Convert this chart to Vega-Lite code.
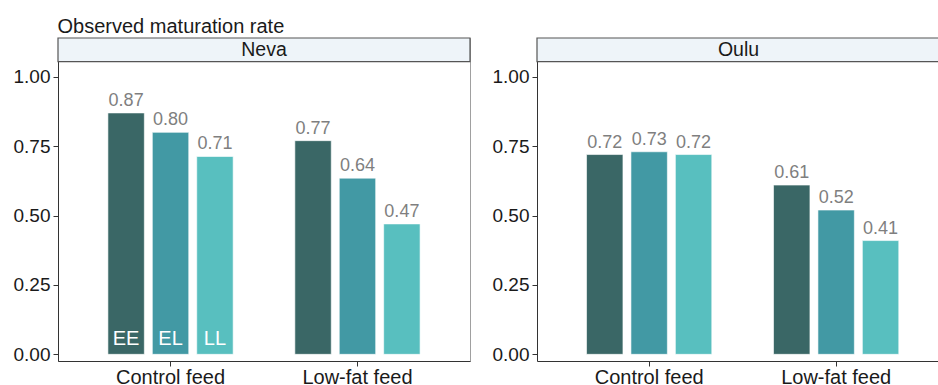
{
  "$schema": "https://vega.github.io/schema/vega-lite/v6.json",
  "background": "white",
  "padding": {"left": 12, "top": 16, "right": 0, "bottom": 0},
  "title": {"text": "Observed maturation rate", "anchor": "start", "dx": 45, "fontSize": 20, "fontWeight": "normal", "font": "Liberation Sans", "color": "#1a1a1a", "offset": 0},
  "data": {"values": [
    {"site": "Neva", "feed": "Control feed", "gen": "EE", "rate": 0.87},
    {"site": "Neva", "feed": "Control feed", "gen": "EL", "rate": 0.80},
    {"site": "Neva", "feed": "Control feed", "gen": "LL", "rate": 0.713},
    {"site": "Neva", "feed": "Low-fat feed", "gen": "EE", "rate": 0.77},
    {"site": "Neva", "feed": "Low-fat feed", "gen": "EL", "rate": 0.635},
    {"site": "Neva", "feed": "Low-fat feed", "gen": "LL", "rate": 0.47},
    {"site": "Oulu", "feed": "Control feed", "gen": "EE", "rate": 0.72},
    {"site": "Oulu", "feed": "Control feed", "gen": "EL", "rate": 0.73},
    {"site": "Oulu", "feed": "Control feed", "gen": "LL", "rate": 0.72},
    {"site": "Oulu", "feed": "Low-fat feed", "gen": "EE", "rate": 0.61},
    {"site": "Oulu", "feed": "Low-fat feed", "gen": "EL", "rate": 0.52},
    {"site": "Oulu", "feed": "Low-fat feed", "gen": "LL", "rate": 0.41}
  ]},
  "spacing": 20,
  "hconcat": [
    {
      "width": 412,
      "height": 323,
      "layer": [
        {
          "transform": [{"filter": "datum.site == 'Neva'"}],
          "mark": {"type": "bar", "stroke": "white", "strokeWidth": 0.6},
          "encoding": {
            "x": {"field": "feed", "type": "nominal", "sort": ["Control feed", "Low-fat feed"], "scale": {"paddingInner": 0.33, "paddingOuter": 0.267}, "axis": {"title": null, "labelAngle": 0}},
            "xOffset": {"field": "gen", "type": "nominal", "sort": ["EE", "EL", "LL"], "scale": {"paddingInner": 0.18, "paddingOuter": 0}},
            "y": {"field": "rate", "type": "quantitative", "title": null, "scale": {"domain": [-0.024, 1.14], "nice": false, "zero": false}, "axis": {"values": [0, 0.25, 0.5, 0.75, 1], "format": ".2f", "title": null}},
            "color": {"field": "gen", "type": "nominal", "scale": {"domain": ["EE", "EL", "LL"], "range": ["#3a6766", "#4299a4", "#58bfbf"]}, "legend": null}
          }
        },
        {
          "transform": [{"filter": "datum.site == 'Neva'"}],
          "mark": {"type": "text", "baseline": "alphabetic", "dy": -7, "fontSize": 18, "color": "#7f7f7f"},
          "encoding": {
            "x": {"field": "feed", "type": "nominal", "sort": ["Control feed", "Low-fat feed"]},
            "xOffset": {"field": "gen", "type": "nominal", "sort": ["EE", "EL", "LL"]},
            "y": {"field": "rate", "type": "quantitative", "title": null},
            "text": {"field": "rate", "type": "quantitative", "format": ".2f"}
          }
        },
        {
          "transform": [{"filter": "datum.site == 'Neva' && datum.feed == 'Control feed'"}],
          "mark": {"type": "text", "baseline": "alphabetic", "dy": -9, "fontSize": 20, "color": "white"},
          "encoding": {
            "x": {"field": "feed", "type": "nominal", "sort": ["Control feed", "Low-fat feed"]},
            "xOffset": {"field": "gen", "type": "nominal", "sort": ["EE", "EL", "LL"]},
            "y": {"datum": 0, "type": "quantitative", "title": null},
            "text": {"field": "gen", "type": "nominal"}
          }
        },
        {
          "data": {"values": [{"site": "Neva"}]},
          "mark": {"type": "rect", "fill": "#eef4f9", "stroke": "#555555", "strokeWidth": 1.2},
          "encoding": {
            "y": {"datum": 1.055, "type": "quantitative", "title": null},
            "y2": {"datum": 1.14}
          }
        },
        {
          "data": {"values": [{"site": "Neva"}]},
          "mark": {"type": "text", "baseline": "middle", "fontSize": 19.5, "color": "#1a1a1a"},
          "encoding": {
            "y": {"datum": 1.0975, "type": "quantitative", "title": null},
            "text": {"field": "site", "type": "nominal"}
          }
        }
      ]
    },
    {
      "width": 403,
      "height": 323,
      "view": {"stroke": null},
      "layer": [
        {
          "transform": [{"filter": "datum.site == 'Oulu'"}],
          "mark": {"type": "bar", "stroke": "white", "strokeWidth": 0.6},
          "encoding": {
            "x": {"field": "feed", "type": "nominal", "sort": ["Control feed", "Low-fat feed"], "scale": {"paddingInner": 0.33, "paddingOuter": 0.2426, "align": 0.546}, "axis": {"title": null, "labelAngle": 0}},
            "xOffset": {"field": "gen", "type": "nominal", "sort": ["EE", "EL", "LL"], "scale": {"paddingInner": 0.18, "paddingOuter": 0}},
            "y": {"field": "rate", "type": "quantitative", "title": null, "scale": {"domain": [-0.024, 1.14], "nice": false, "zero": false}, "axis": {"values": [0, 0.25, 0.5, 0.75, 1], "format": ".2f", "title": null}},
            "color": {"field": "gen", "type": "nominal", "scale": {"domain": ["EE", "EL", "LL"], "range": ["#3a6766", "#4299a4", "#58bfbf"]}, "legend": null}
          }
        },
        {
          "transform": [{"filter": "datum.site == 'Oulu'"}],
          "mark": {"type": "text", "baseline": "alphabetic", "dy": -7, "fontSize": 18, "color": "#7f7f7f"},
          "encoding": {
            "x": {"field": "feed", "type": "nominal", "sort": ["Control feed", "Low-fat feed"]},
            "xOffset": {"field": "gen", "type": "nominal", "sort": ["EE", "EL", "LL"]},
            "y": {"field": "rate", "type": "quantitative", "title": null},
            "text": {"field": "rate", "type": "quantitative", "format": ".2f"}
          }
        },
        {
          "data": {"values": [{"site": "Oulu"}]},
          "mark": {"type": "rect", "fill": "#eef4f9", "stroke": "#555555", "strokeWidth": 1.2},
          "encoding": {
            "y": {"datum": 1.055, "type": "quantitative", "title": null},
            "y2": {"datum": 1.14}
          }
        },
        {
          "data": {"values": [{"site": "Oulu"}]},
          "mark": {"type": "text", "baseline": "middle", "fontSize": 19.5, "color": "#1a1a1a"},
          "encoding": {
            "y": {"datum": 1.0975, "type": "quantitative", "title": null},
            "text": {"field": "site", "type": "nominal"}
          }
        }
      ]
    }
  ],
  "config": {
    "font": "Liberation Sans",
    "view": {"stroke": "#a0a0a0"},
    "axis": {"labelFontSize": 19, "labelColor": "#1a1a1a", "tickColor": "#333333", "domainColor": "#333333", "grid": false, "tickSize": 5, "labelPadding": 3, "labelFont": "Liberation Sans"},
    "axisX": {"labelFontSize": 20, "labelPadding": 1}
  }
}
